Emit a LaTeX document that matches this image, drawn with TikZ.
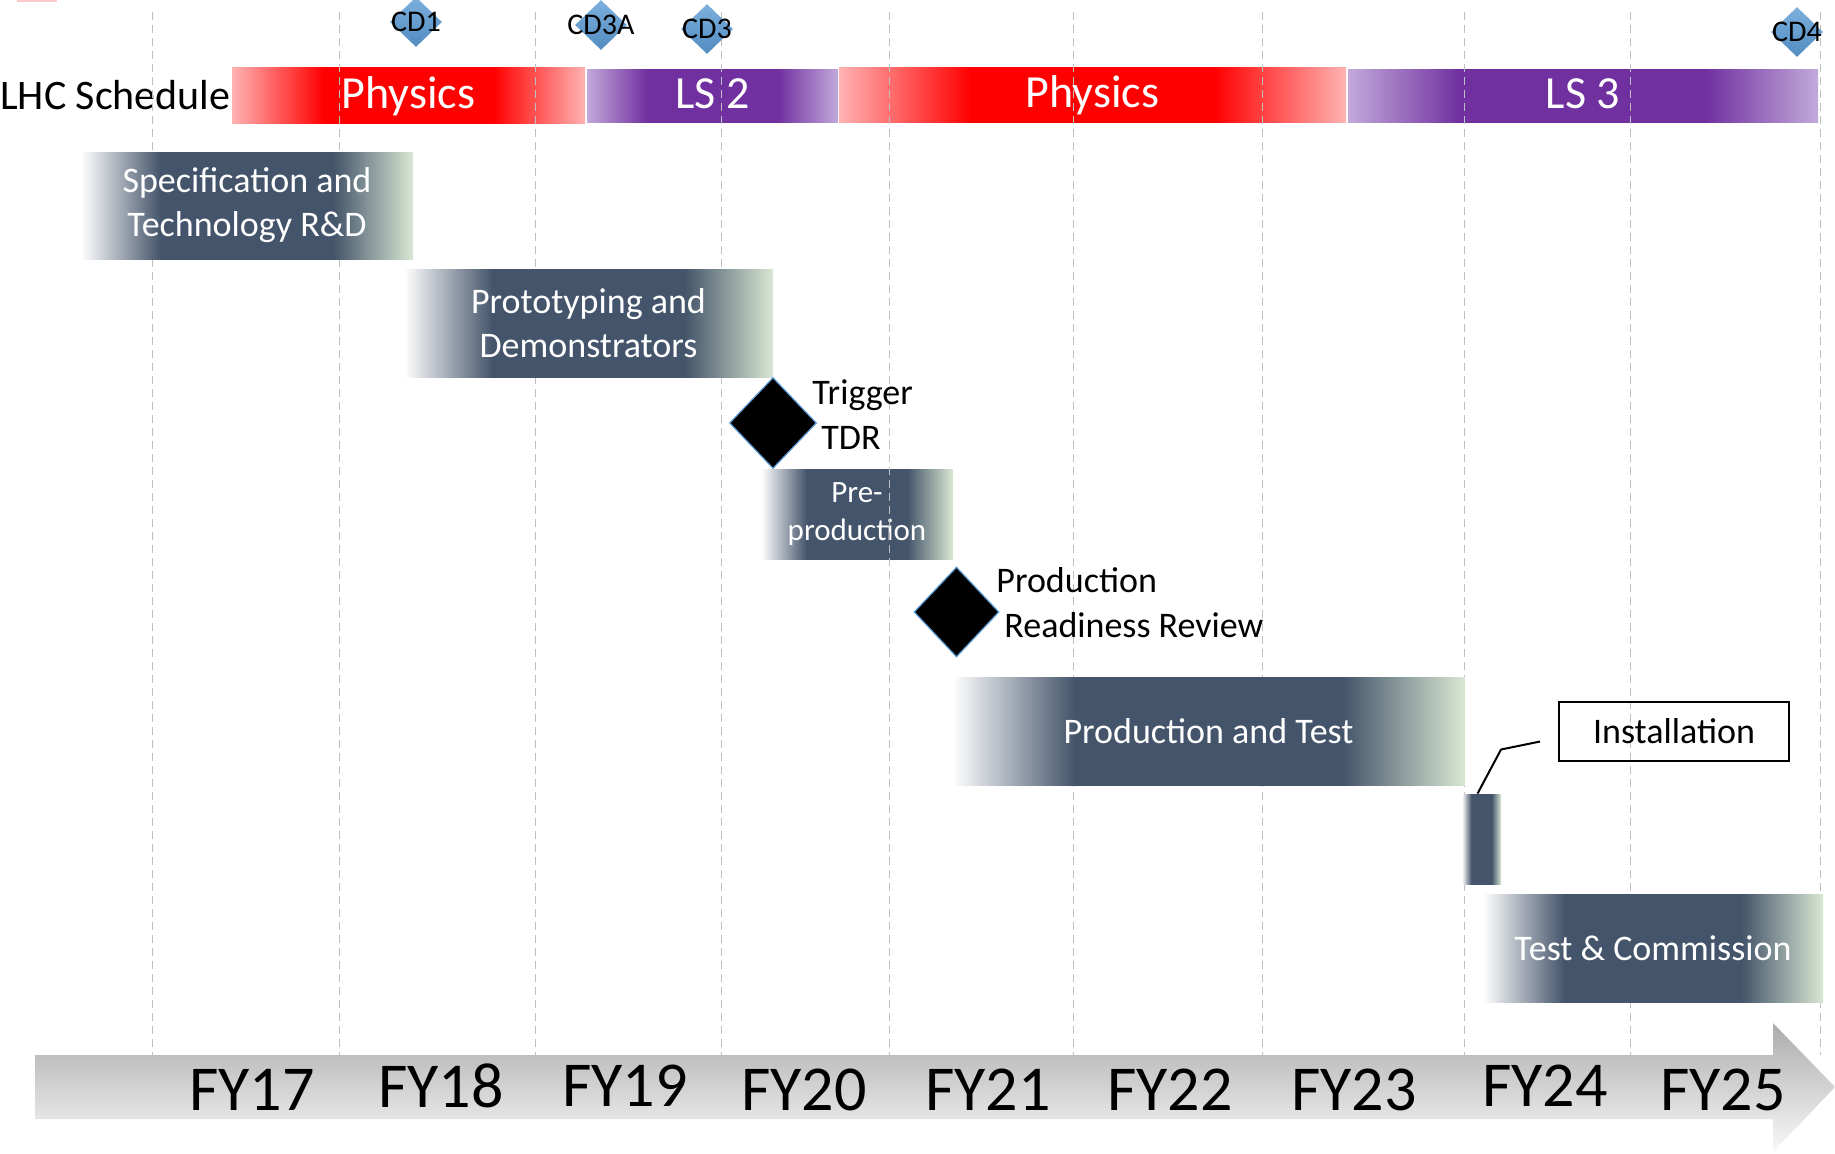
\documentclass[tikz,border=0pt]{standalone}
\usepackage{fontspec}
\setmainfont{Carlito}
\usetikzlibrary{shapes.geometric}
\definecolor{TaskSlate}{HTML}{44546A}
\definecolor{TaskGreen}{HTML}{D9E8D3}
\definecolor{PhysicsRed}{HTML}{FF0000}
\definecolor{PhysicsPink}{HTML}{FFB3B3}
\definecolor{ShutdownPurple}{HTML}{7030A0}
\definecolor{ShutdownLilac}{HTML}{C2A9DA}
\definecolor{CDBlue}{HTML}{5B9BD5}
\definecolor{GridGray}{HTML}{BFBFBF}
% fades run over the middle 50bp, the part that covers the bar
\pgfdeclarehorizontalshading{taskfade}{100bp}{color(0bp)=(white); color(25bp)=(white); color(37bp)=(TaskSlate); color(63bp)=(TaskSlate); color(75bp)=(TaskGreen); color(100bp)=(TaskGreen)}
\pgfdeclarehorizontalshading{physicsfade}{100bp}{color(0bp)=(PhysicsPink); color(25bp)=(PhysicsPink); color(38bp)=(PhysicsRed); color(62bp)=(PhysicsRed); color(75bp)=(PhysicsPink); color(100bp)=(PhysicsPink)}
\pgfdeclarehorizontalshading{shutdownfade}{100bp}{color(0bp)=(ShutdownLilac); color(25bp)=(ShutdownLilac); color(37bp)=(ShutdownPurple); color(63bp)=(ShutdownPurple); color(75bp)=(ShutdownLilac); color(100bp)=(ShutdownLilac)}
\tikzset{
  task/.style={shading=taskfade, text=white, inner sep=0pt, align=center, font=\fontsize{18}{22}\selectfont},
  physics/.style={shading=physicsfade, text=white, inner sep=0pt, text height=16.1pt, text depth=3.1pt, font=\fontsize{23}{27}\selectfont},
  shutdown/.style={shading=shutdownfade, text=white, inner sep=0pt, text height=16.1pt, text depth=3.1pt, font=\fontsize{23}{27}\selectfont},
  milestone/.style={diamond, top color=CDBlue!80!white, bottom color=CDBlue!90!black, inner sep=0pt, minimum width=26pt, minimum height=25pt},
  cdlabel/.style={inner sep=0pt, font=\fontsize{15}{18}\selectfont},
  review/.style={diamond, fill=black, draw=CDBlue, line width=0.6pt, inner sep=0pt},
  reviewtext/.style={anchor=west, align=left, inner sep=0pt, font=\fontsize{18}{22.5}\selectfont},
  gridline/.style={GridGray, line width=0.5pt, dash pattern=on 4pt off 2.5pt},
  fylabel/.style={inner sep=0pt, font=\fontsize{32}{38}\selectfont},
}

\begin{document}
\begin{tikzpicture}[x=0.5pt, y=-0.5pt]
    \useasboundingbox (0,0) rectangle (1835,1153);
    \fill[PhysicsPink!70] (17,0) rectangle (57,2);
    \node[anchor=east, inner sep=0pt, font=\fontsize{21}{25}\selectfont] at (231, 95) (lhc) {LHC Schedule};
    \node[physics, minimum width=176.5pt, minimum height=28pt] at (408.5, 95) (phys1) {Physics};
    \node[shutdown, minimum width=125.5pt, minimum height=26.5pt] at (712.5, 95.5) (ls2) {LS 2};
    \node[physics, minimum width=253.5pt, minimum height=27.5pt] at (1092.5, 94.5) (phys2) {Physics};
    \node[shutdown, minimum width=235pt, minimum height=26.5pt] at (1583, 95.5) (ls3) {LS 3};
    \node[task, minimum width=96pt, minimum height=45pt, font=\fontsize{15.5}{19}\selectfont] at (857, 514) (preprod) {Pre-\\production};
    \foreach \x in {152,339,535,721,889,1073,1262,1464,1630,1820}
      \draw[gridline] (\x,12) -- (\x,1055);
    \node[milestone, label={[cdlabel]center:CD1}] at (416, 22) (cd1) {};
    \node[milestone, label={[cdlabel]center:CD3A}] at (601, 25) (cd3a) {};
    \node[milestone, label={[cdlabel]center:CD3}] at (707, 29) (cd3) {};
    \node[milestone, label={[cdlabel]center:CD4}] at (1797, 32) (cd4) {};
    \node[task, minimum width=166pt, minimum height=53.5pt] at (247, 205.5) (spec) {Specification and\\Technology R\&D};
    \node[task, minimum width=184.5pt, minimum height=54pt] at (588.5, 323) (proto) {Prototyping and\\Demonstrators};
    \node[review, minimum width=43.5pt, minimum height=45.5pt] at (773, 423) (tdr) {};
    \node[reviewtext] at (812, 415) (tdrtext) {Trigger\\\hspace*{4.5pt}TDR};
    \node[review, minimum width=42.5pt, minimum height=45pt] at (956.5, 612) (prr) {};
    \node[reviewtext] at (996, 603) (prrtext) {Production\\\hspace*{4pt}Readiness Review};
    \node[task, minimum width=256.5pt, minimum height=54pt] at (1208.5, 731) (prodtest) {Production and Test};
    \node[task, minimum width=19.5pt, minimum height=45pt] at (1481.5, 839) (inbar) {};
    \node[draw, line width=1pt, inner sep=0pt, minimum width=115pt, minimum height=29.5pt, font=\fontsize{18}{22}\selectfont] at (1674, 731.5) (inbox) {Installation};
    \draw[line width=1pt] ([xshift=-9pt, yshift=-5pt]inbox.west) -- ++(-39,8) -- ([xshift=-2pt]inbar.north);
    \node[task, minimum width=170pt, minimum height=54pt] at (1653, 948) (testcomm) {Test \& Commission};
    \shade[top color=gray!65, bottom color=gray!5] (35,1055) -- (1773,1055) -- (1773,1023) -- (1835,1087) -- (1773,1152) -- (1773,1119) -- (35,1119) -- cycle;
    \foreach \x/\y/\t in {252/1090/FY17, 441/1086/FY18, 625/1086/FY19, 804/1090/FY20, 988/1090/FY21, 1170/1090/FY22, 1354/1090/FY23, 1545/1086/FY24, 1723/1090/FY25}
      \node[fylabel] at (\x, \y) (\t) {\t};
  \end{tikzpicture}
\end{document}
